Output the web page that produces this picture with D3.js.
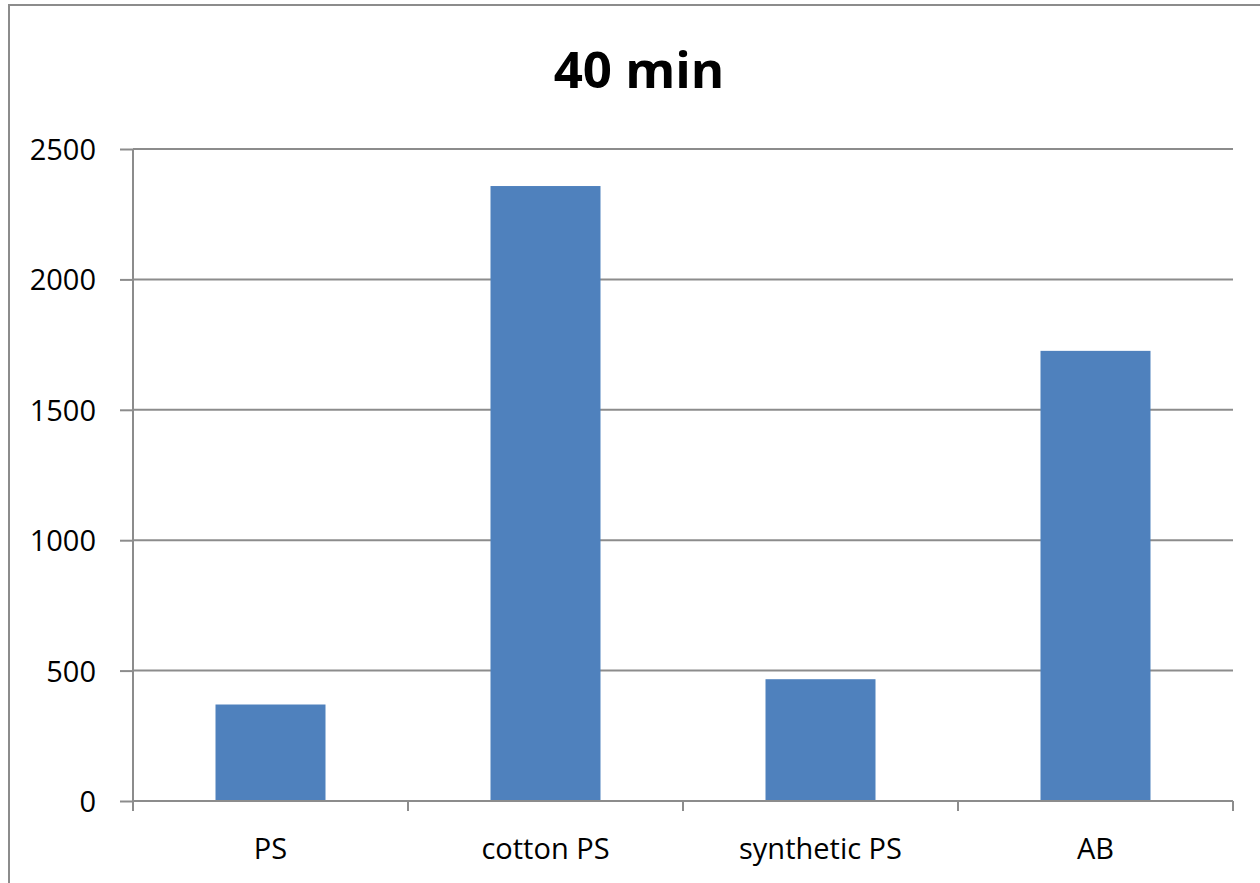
<!DOCTYPE html>
<html>
<head>
<meta charset="utf-8">
<script src="https://d3js.org/d3.v7.min.js"></script>
<style>
  body { margin: 0; background: #fff; }
  svg { display: block; }
</style>
</head>
<body>
<svg id="chart"></svg>
<script>
// Chart data
const categories = ['PS', 'cotton PS', 'synthetic PS', 'AB']
const values = [370, 2358, 467, 1726]
const yTicks = [0, 500, 1000, 1500, 2000, 2500]
const title = '40 min'

const width = 1260
const height = 883
const margin = { top: 149, right: 27, bottom: 82, left: 133 }
const gridColor = '#8c8c8c'
const font = "'Open Sans', 'Noto Sans', sans-serif"

const svg = d3.select('#chart')
  .attr('width', width)
  .attr('height', height)

// Outer chart border (runs off the right and bottom edges)
svg.append('rect')
  .attr('x', 9)
  .attr('y', 5)
  .attr('width', width + 20)
  .attr('height', height + 20)
  .attr('fill', 'none')
  .attr('stroke', gridColor)
  .attr('stroke-width', 2)

const x = d3.scaleBand()
  .domain(categories)
  .range([margin.left, width - margin.right])
  .paddingInner(0.6)
  .paddingOuter(0.3)

const y = d3.scaleLinear()
  .domain([0, 2500])
  .range([height - margin.bottom, margin.top])

// Horizontal gridlines + y axis
const yAxis = svg.append('g')
  .attr('transform', `translate(${margin.left},0)`)
  .call(d3.axisLeft(y)
    .tickValues(yTicks)
    .tickSize(13)
    .tickPadding(24)
    .tickFormat(d3.format('d')))

yAxis.select('.domain').remove()
yAxis.selectAll('.tick line').attr('stroke', gridColor).attr('stroke-width', 2)
yAxis.selectAll('.tick text')
  .attr('fill', '#000')
  .attr('font-family', font)
  .attr('font-size', 29)
  .attr('dy', '0.36em')

svg.append('g')
  .selectAll('line')
  .data(yTicks.filter(d => d > 0))
  .join('line')
  .attr('x1', margin.left)
  .attr('x2', width - margin.right)
  .attr('y1', d => y(d))
  .attr('y2', d => y(d))
  .attr('stroke', gridColor)
  .attr('stroke-width', 2)

// Left axis line
svg.append('line')
  .attr('x1', margin.left)
  .attr('x2', margin.left)
  .attr('y1', y(2500))
  .attr('y2', y(0) + 10)
  .attr('stroke', gridColor)
  .attr('stroke-width', 2)

// Bars
svg.append('g')
  .selectAll('rect')
  .data(values)
  .join('rect')
  .attr('x', (d, i) => x(categories[i]))
  .attr('width', x.bandwidth())
  .attr('y', d => y(d))
  .attr('height', d => y(0) - y(d))
  .attr('fill', '#4f81bd')

// X axis baseline and boundary ticks
const step = x.step()
const boundaries = d3.range(categories.length + 1).map(i => margin.left + i * step)

svg.append('line')
  .attr('x1', margin.left)
  .attr('x2', width - margin.right)
  .attr('y1', y(0))
  .attr('y2', y(0))
  .attr('stroke', gridColor)
  .attr('stroke-width', 2)

svg.append('g')
  .selectAll('line')
  .data(boundaries)
  .join('line')
  .attr('x1', d => d)
  .attr('x2', d => d)
  .attr('y1', y(0))
  .attr('y2', y(0) + 10)
  .attr('stroke', gridColor)
  .attr('stroke-width', 2)

// Category labels
svg.append('g')
  .selectAll('text')
  .data(categories)
  .join('text')
  .text(d => d)
  .attr('x', d => x(d) + x.bandwidth() / 2)
  .attr('y', 859)
  .attr('text-anchor', 'middle')
  .attr('font-family', font)
  .attr('font-size', 29)
  .attr('fill', '#000')

// Title
svg.append('text')
  .text(title)
  .attr('x', 639)
  .attr('y', 88)
  .attr('text-anchor', 'middle')
  .attr('font-family', font)
  .attr('font-weight', 'bold')
  .attr('font-size', 51)
  .attr('fill', '#000')
</script>
</body>
</html>
